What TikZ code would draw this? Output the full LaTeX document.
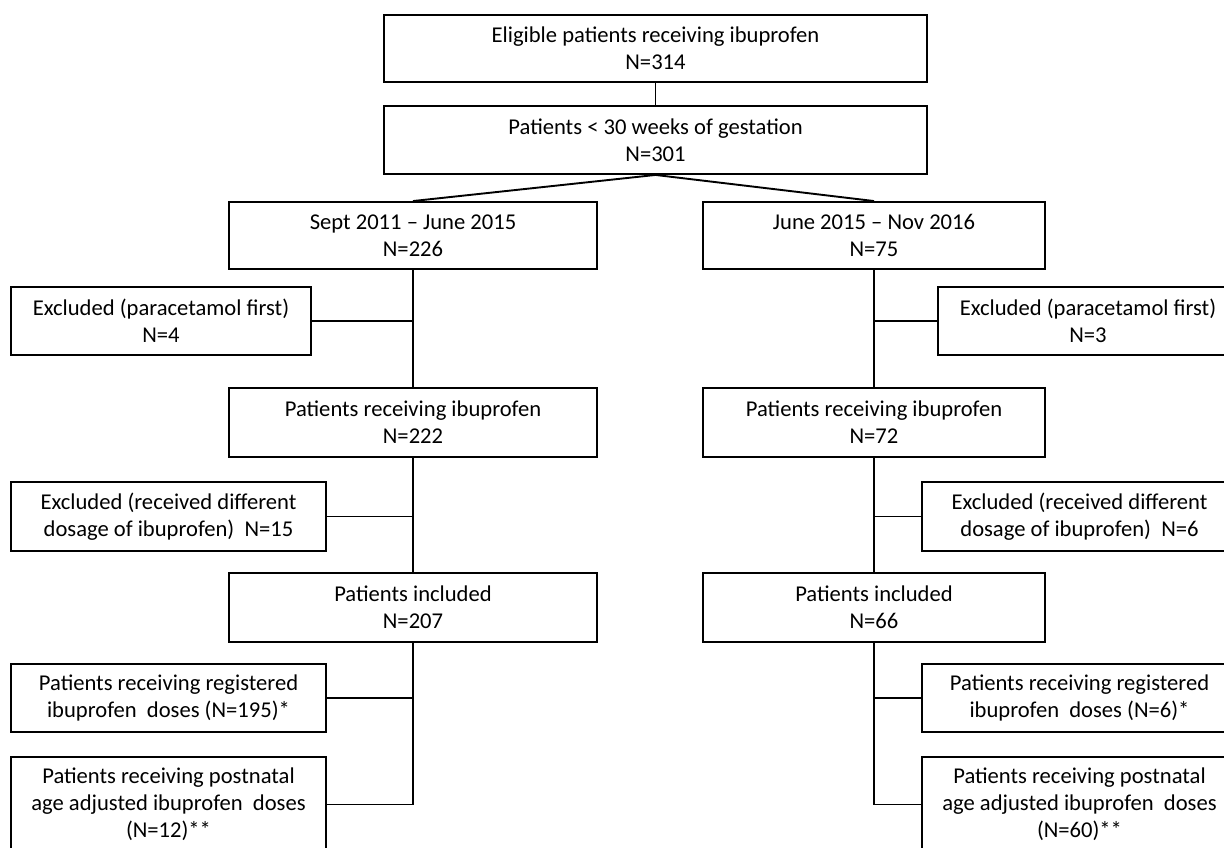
\documentclass[tikz,border=0pt]{standalone}
\usepackage{fontspec}
\setmainfont{Carlito}
\begin{document}
\begin{tikzpicture}[x=1pt,y=-1pt,
  box/.style={draw, line width=1.9pt, align=center, inner sep=0pt,
    font=\fontsize{22.6}{27}\selectfont},
  conn/.style={line width=1.9pt}]
\clip (0,0) rectangle (1224,848);
\fill[white] (0,0) rectangle (1224,848);
% top
\node[box, minimum width=543, minimum height=67] (elig) at (655.5,48.5) {Eligible patients receiving ibuprofen\\N=314};
\node[box, minimum width=543, minimum height=68] (gest) at (655.5,140) {Patients < 30 weeks of gestation\\N=301};
\node[box, minimum width=368, minimum height=67] (sept) at (413,235.5) {Sept 2011 -- June 2015\\N=226};
\node[box, minimum width=342, minimum height=67] (june) at (874,235.5) {June 2015 -- Nov 2016\\N=75};
% left column
\node[box, minimum width=300, minimum height=68] (exclPL) at (161,321) {Excluded (paracetamol first)\\N=4};
\node[box, minimum width=368, minimum height=69] (priL) at (413,422.5) {Patients receiving ibuprofen\\N=222};
\node[box, minimum width=315, minimum height=69] (exclDL) at (168.5,516.5) {Excluded (received different\\dosage of ibuprofen)\ \ N=15};
\node[box, minimum width=368, minimum height=69] (inclL) at (413,607.5) {Patients included\\N=207};
\node[box, minimum width=315, minimum height=68] (regL) at (168.5,698) {Patients receiving registered\\ibuprofen\ \ doses (N=195)*};
\node[box, minimum width=315, minimum height=95] (postL) at (168.5,804.5) {Patients receiving postnatal\\age adjusted ibuprofen\ \ doses\\(N=12)**};
% right column
\node[box, minimum width=300, minimum height=68] (exclPR) at (1088,321) {Excluded (paracetamol first)\\N=3};
\node[box, minimum width=342, minimum height=69] (priR) at (874,422.5) {Patients receiving ibuprofen\\N=72};
\node[box, minimum width=315, minimum height=69] (exclDR) at (1079.5,516.5) {Excluded (received different\\dosage of ibuprofen)\ \ N=6};
\node[box, minimum width=342, minimum height=69] (inclR) at (874,607.5) {Patients included\\N=66};
\node[box, minimum width=315, minimum height=68] (regR) at (1079.5,698) {Patients receiving registered\\ibuprofen\ \ doses (N=6)*};
\node[box, minimum width=315, minimum height=95] (postR) at (1079.5,804.5) {Patients receiving postnatal\\age adjusted ibuprofen\ \ doses\\(N=60)**};
% connectors
\draw[conn] (elig.south) -- (gest.north);
\draw[conn] (sept.north) -- (gest.south) -- (june.north);
\draw[conn] (sept.south) -- (priL.north);
\draw[conn] (priL.south) -- (inclL.north);
\draw[conn] (inclL.south) |- (postL.east);
\draw[conn] (exclPL.east) -- (exclPL.east -| sept.south);
\draw[conn] (exclDL.east) -- (exclDL.east -| priL.south);
\draw[conn] (regL.east) -- (regL.east -| inclL.south);
\draw[conn] (june.south) -- (priR.north);
\draw[conn] (priR.south) -- (inclR.north);
\draw[conn] (inclR.south) |- (postR.west);
\draw[conn] (exclPR.west) -- (exclPR.west -| june.south);
\draw[conn] (exclDR.west) -- (exclDR.west -| priR.south);
\draw[conn] (regR.west) -- (regR.west -| inclR.south);
\end{tikzpicture}
\end{document}
